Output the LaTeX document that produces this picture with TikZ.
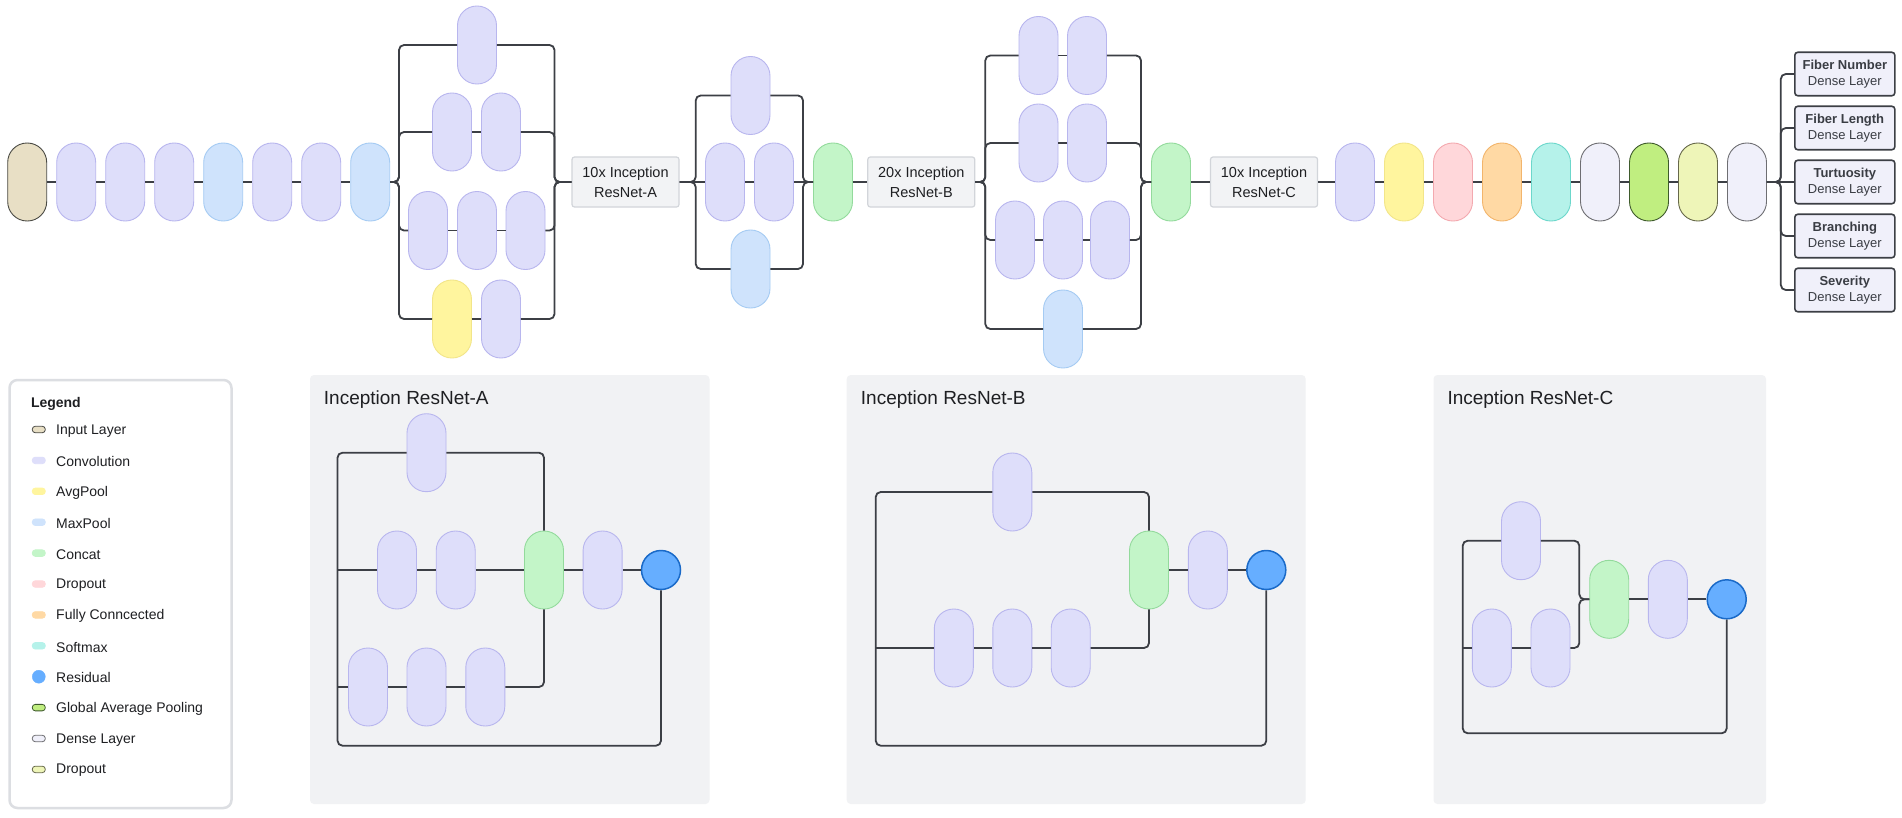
\documentclass[tikz,border=0pt]{standalone}
\usepackage{fontspec}
\setmainfont{Liberation Sans}
\usetikzlibrary{calc}
\definecolor{convF}{HTML}{DEDEFA}
\definecolor{convD}{HTML}{B8B6EE}
\definecolor{inF}{HTML}{E8DFC5}
\definecolor{inD}{HTML}{4A4A44}
\definecolor{mpF}{HTML}{CFE3FC}
\definecolor{mpD}{HTML}{A5CBF3}
\definecolor{apF}{HTML}{FFF59E}
\definecolor{apD}{HTML}{F2E58A}
\definecolor{ccF}{HTML}{C3F5C8}
\definecolor{ccD}{HTML}{93DA9C}
\definecolor{doF}{HTML}{FFD7DA}
\definecolor{doD}{HTML}{F3A9AF}
\definecolor{fcF}{HTML}{FFD9A4}
\definecolor{fcD}{HTML}{F2B56C}
\definecolor{smF}{HTML}{B5F2EA}
\definecolor{smD}{HTML}{6CD7CB}
\definecolor{dnF}{HTML}{F0F0FA}
\definecolor{dnD}{HTML}{6E6E72}
\definecolor{gpF}{HTML}{C0EE80}
\definecolor{gpD}{HTML}{3E5A2C}
\definecolor{dtF}{HTML}{EEF5B8}
\definecolor{dtD}{HTML}{66684A}
\definecolor{rsF}{HTML}{66AEFF}
\definecolor{rsD}{HTML}{1A6AC8}
\definecolor{lineC}{HTML}{3C3F45}
\definecolor{boxF}{HTML}{F2F3F5}
\definecolor{boxD}{HTML}{D2D5DA}
\definecolor{panelF}{HTML}{F1F2F4}
\definecolor{legD}{HTML}{DCDEE2}
\definecolor{txtC}{HTML}{1E1F22}
\definecolor{outD}{HTML}{3C3F45}
\definecolor{outT}{HTML}{3A3D44}
\tikzset{
  pill/.style={rectangle, rounded corners=19.4pt, minimum width=39pt, minimum height=78pt, inner sep=0pt, line width=0.9pt},
  conv/.style={pill, fill=convF, draw=convD},
  inp/.style={pill, fill=inF, draw=inD},
  mpool/.style={pill, fill=mpF, draw=mpD},
  apool/.style={pill, fill=apF, draw=apD},
  concat/.style={pill, fill=ccF, draw=ccD},
  drop/.style={pill, fill=doF, draw=doD},
  fullc/.style={pill, fill=fcF, draw=fcD},
  smax/.style={pill, fill=smF, draw=smD},
  dense/.style={pill, fill=dnF, draw=dnD},
  gap/.style={pill, fill=gpF, draw=gpD},
  dropb/.style={pill, fill=dtF, draw=dtD},
  res/.style={circle, minimum size=39pt, inner sep=0pt, fill=rsF, draw=rsD, line width=1.5pt},
  conn/.style={draw=lineC, line width=1.8pt, rounded corners=5pt},
  repbox/.style={rectangle, rounded corners=2.5pt, fill=boxF, draw=boxD, line width=1.2pt, minimum width=107pt, minimum height=50pt, inner sep=0pt, align=center, font=\fontsize{14.5}{20}\selectfont, text=txtC},
  outbox/.style={rectangle, rounded corners=3pt, fill=dnF, draw=outD, line width=1.6pt, minimum width=100pt, minimum height=43.5pt, inner sep=0pt, align=center, font=\fontsize{13}{16.5}\selectfont, text=outT},
  panel/.style={fill=panelF, rounded corners=4pt},
  ptitle/.style={anchor=west, inner sep=0pt, font=\fontsize{19}{22}\selectfont, text=txtC},
  legtext/.style={anchor=west, inner sep=0pt, font=\fontsize{14}{17}\selectfont, text=txtC},
  sw/.style={rectangle, rounded corners=3pt, minimum width=13pt, minimum height=6.5pt, inner sep=0pt, line width=0.8pt},
  swIn/.style={sw, fill=inF, draw=inD},
  swConv/.style={sw, fill=convF, draw=convF},
  swAp/.style={sw, fill=apF, draw=apF},
  swMp/.style={sw, fill=mpF, draw=mpF},
  swCc/.style={sw, fill=ccF, draw=ccF},
  swDo/.style={sw, fill=doF, draw=doF},
  swFc/.style={sw, fill=fcF, draw=fcF},
  swSm/.style={sw, fill=smF, draw=smF},
  swRes/.style={circle, minimum size=13pt, inner sep=0pt, fill=rsF, draw=rsF},
  swGap/.style={sw, fill=gpF, draw=gpD},
  swDn/.style={sw, fill=dnF, draw=dnD},
  swDt/.style={sw, fill=dtF, draw=dtD},
}
\begin{document}
\begin{tikzpicture}[x=1pt, y=-1pt]
\useasboundingbox[fill=white] (0,0) rectangle (1902,817);

% ---------- main row ----------
\node[inp]   (p0) at (27.2,182) {};
\node[conv]  (p1) at (76.2,182) {};
\node[conv]  (p2) at (125.2,182) {};
\node[conv]  (p3) at (174.2,182) {};
\node[mpool] (p4) at (223.2,182) {};
\node[conv]  (p5) at (272.2,182) {};
\node[conv]  (p6) at (321.2,182) {};
\node[mpool] (p7) at (370.2,182) {};
\foreach \a/\b in {p0/p1,p1/p2,p2/p3,p3/p4,p4/p5,p5/p6,p6/p7}
  \draw[conn] (\a.east) -- (\b.west);

% block 1
\node[conv]  (s1a)  at (477,45) {};
\node[conv]  (s1b1) at (452,132) {};
\node[conv]  (s1b2) at (501,132) {};
\node[conv]  (s1c1) at (428,230.5) {};
\node[conv]  (s1c2) at (477,230.5) {};
\node[conv]  (s1c3) at (525.5,230.5) {};
\node[apool] (s1d1) at (452,319) {};
\node[conv]  (s1d2) at (501,319) {};
\coordinate (s1L) at (399,182);
\coordinate (s1R) at (554.5,182);
\node[repbox] (boxA) at (625.5,182) {10x Inception\\ResNet-A};
\foreach \n in {s1a,s1b1,s1c1,s1d1}
  \draw[conn] (p7.east) -- (s1L) |- (\n.west);
\foreach \n in {s1a,s1b2,s1c3,s1d2}
  \draw[conn] (\n.east) -| (s1R) -- (boxA.west);
\draw[conn] (s1b1.east) -- (s1b2.west);
\draw[conn] (s1c1.east) -- (s1c2.west);
\draw[conn] (s1c2.east) -- (s1c3.west);
\draw[conn] (s1d1.east) -- (s1d2.west);

% block 2
\node[conv]   (s2t)  at (750.5,95.5) {};
\node[conv]   (s2m1) at (725,182) {};
\node[conv]   (s2m2) at (774,182) {};
\node[mpool]  (s2b)  at (750.5,269) {};
\node[concat] (cc1)  at (833,182) {};
\coordinate (s2L) at (695.7,182);
\coordinate (s2R) at (803,182);
\draw[conn] (boxA.east) -- (s2m1.west);
\draw[conn] (s2m1.east) -- (s2m2.west);
\draw[conn] (s2m2.east) -- (cc1.west);
\foreach \n in {s2t,s2b}
  \draw[conn] (boxA.east) -- (s2L) |- (\n.west);
\foreach \n in {s2t,s2b}
  \draw[conn] (\n.east) -| (s2R) -- (cc1.west);
\node[repbox] (boxB) at (921.3,182) {20x Inception\\ResNet-B};
\draw[conn] (cc1.east) -- (boxB.west);

% block 3
\node[conv]   (s3a1) at (1038.5,55.5) {};
\node[conv]   (s3a2) at (1087,55.5) {};
\node[conv]   (s3b1) at (1038.5,143) {};
\node[conv]   (s3b2) at (1087,143) {};
\node[conv]   (s3c1) at (1015,240) {};
\node[conv]   (s3c2) at (1063,240) {};
\node[conv]   (s3c3) at (1110,240) {};
\node[mpool]  (s3d)  at (1063,329) {};
\node[concat] (cc2)  at (1171,182) {};
\coordinate (s3L) at (985.3,182);
\coordinate (s3R) at (1141,182);
\foreach \n in {s3a1,s3b1,s3c1,s3d}
  \draw[conn] (boxB.east) -- (s3L) |- (\n.west);
\foreach \n in {s3a2,s3b2,s3c3,s3d}
  \draw[conn] (\n.east) -| (s3R) -- (cc2.west);
\draw[conn] (s3a1.east) -- (s3a2.west);
\draw[conn] (s3b1.east) -- (s3b2.west);
\draw[conn] (s3c1.east) -- (s3c2.west);
\draw[conn] (s3c2.east) -- (s3c3.west);
\node[repbox] (boxC) at (1264,182) {10x Inception\\ResNet-C};
\draw[conn] (cc2.east) -- (boxC.west);

% tail
\node[conv]  (t1) at (1355,182) {};
\node[apool] (t2) at (1404,182) {};
\node[drop]  (t3) at (1453,182) {};
\node[fullc] (t4) at (1502,182) {};
\node[smax]  (t5) at (1551,182) {};
\node[dense] (t6) at (1600,182) {};
\node[gap]   (t7) at (1649,182) {};
\node[dropb] (t8) at (1698,182) {};
\node[dense] (t9) at (1747,182) {};
\draw[conn] (boxC.east) -- (t1.west);
\foreach \a/\b in {t1/t2,t2/t3,t3/t4,t4/t5,t5/t6,t6/t7,t7/t8,t8/t9}
  \draw[conn] (\a.east) -- (\b.west);

% outputs
\node[outbox] (o1) at (1844.8,74)  {\textbf{Fiber Number}\\Dense Layer};
\node[outbox] (o2) at (1844.8,128) {\textbf{Fiber Length}\\Dense Layer};
\node[outbox] (o3) at (1844.8,182) {\textbf{Turtuosity}\\Dense Layer};
\node[outbox] (o4) at (1844.8,236) {\textbf{Branching}\\Dense Layer};
\node[outbox] (o5) at (1844.8,290) {\textbf{Severity}\\Dense Layer};
\coordinate (oJ) at (1780.8,182);
\foreach \n in {o1,o2,o4,o5}
  \draw[conn] (t9.east) -- (oJ) |- (\n.west);
\draw[conn] (t9.east) -- (o3.west);

% ---------- legend ----------
\draw[legD, line width=2.5pt, fill=white, rounded corners=8pt] (9.5,380) rectangle (231.5,808);
\node[legtext, font=\fontsize{14}{17}\selectfont\bfseries] (legT) at (30.8,403.5) {Legend};
\foreach \s/\t [count=\i from 0] in {swIn/Input Layer, swConv/Convolution, swAp/AvgPool, swMp/MaxPool, swCc/Concat, swDo/Dropout, swFc/Fully Conncected, swSm/Softmax, swRes/Residual, swGap/Global Average Pooling, swDn/Dense Layer, swDt/Dropout}{
  \node[\s] (ls\i) at (38.8, 429.5+30.9*\i) {};
  \node[legtext] (lt\i) at (56, 430.7+30.9*\i) {\t};
}

% ---------- panel A ----------
\fill[panel] (310,375) rectangle (709.5,804);
\node[ptitle] (tA) at (323.7,400) {Inception ResNet-A};
\node[conv]   (aT)  at (426.5,452.7) {};
\node[conv]   (aM1) at (397,570) {};
\node[conv]   (aM2) at (455.7,570) {};
\node[concat] (aC)  at (544,570) {};
\node[conv]   (aM3) at (602.6,570) {};
\node[res]    (aR)  at (661,570) {};
\node[conv]   (aB1) at (368,687) {};
\node[conv]   (aB2) at (426.5,687) {};
\node[conv]   (aB3) at (485.3,687) {};
\coordinate (aLb) at (337.5,745.7);
\coordinate (aL1) at (337.5,570);
\coordinate (aL2) at (337.5,687);
\draw[conn] (aT.west) -| (aLb) -| (aR.south);
\draw[conn] (aL1) -- (aM1.west);
\draw[conn] (aL2) -- (aB1.west);
\draw[conn] (aM1.east) -- (aM2.west);
\draw[conn] (aM2.east) -- (aC.west);
\draw[conn] (aC.east) -- (aM3.west);
\draw[conn] (aM3.east) -- (aR.west);
\draw[conn] (aT.east) -| (aC.north);
\draw[conn] (aB3.east) -| (aC.south);
\draw[conn] (aB1.east) -- (aB2.west);
\draw[conn] (aB2.east) -- (aB3.west);

% ---------- panel B ----------
\fill[panel] (846.7,375) rectangle (1305.7,804);
\node[ptitle] (tB) at (860.7,400) {Inception ResNet-B};
\node[conv]   (bT)  at (1012.3,492) {};
\node[concat] (bC)  at (1149,570) {};
\node[conv]   (bM)  at (1207.8,570) {};
\node[res]    (bR)  at (1266.3,570) {};
\node[conv]   (bB1) at (953.8,648) {};
\node[conv]   (bB2) at (1012.3,648) {};
\node[conv]   (bB3) at (1070.7,648) {};
\coordinate (bLb) at (875.7,745.7);
\coordinate (bL1) at (875.7,648);
\draw[conn] (bT.west) -| (bLb) -| (bR.south);
\draw[conn] (bL1) -- (bB1.west);
\draw[conn] (bB1.east) -- (bB2.west);
\draw[conn] (bB2.east) -- (bB3.west);
\draw[conn] (bT.east) -| (bC.north);
\draw[conn] (bB3.east) -| (bC.south);
\draw[conn] (bC.east) -- (bM.west);
\draw[conn] (bM.east) -- (bR.west);

% ---------- panel C ----------
\fill[panel] (1433.5,375) rectangle (1766,804);
\node[ptitle] (tC) at (1447.3,400) {Inception ResNet-C};
\node[conv]   (cT)  at (1521,540.7) {};
\node[conv]   (cB1) at (1491.8,648) {};
\node[conv]   (cB2) at (1550.5,648) {};
\node[concat] (cC)  at (1609.2,599.3) {};
\node[conv]   (cM)  at (1667.8,599.3) {};
\node[res]    (cR)  at (1726.7,599.3) {};
\coordinate (cLb) at (1462.7,733.3);
\coordinate (cL1) at (1462.7,648);
\coordinate (cJ)  at (1579.3,599.3);
\draw[conn] (cT.west) -| (cLb) -| (cR.south);
\draw[conn] (cL1) -- (cB1.west);
\draw[conn] (cB1.east) -- (cB2.west);
\draw[conn] (cT.east) -| (cJ) -- (cC.west);
\draw[conn] (cB2.east) -| (cJ) -- (cC.west);
\draw[conn] (cC.east) -- (cM.west);
\draw[conn] (cM.east) -- (cR.west);
\end{tikzpicture}
\end{document}
